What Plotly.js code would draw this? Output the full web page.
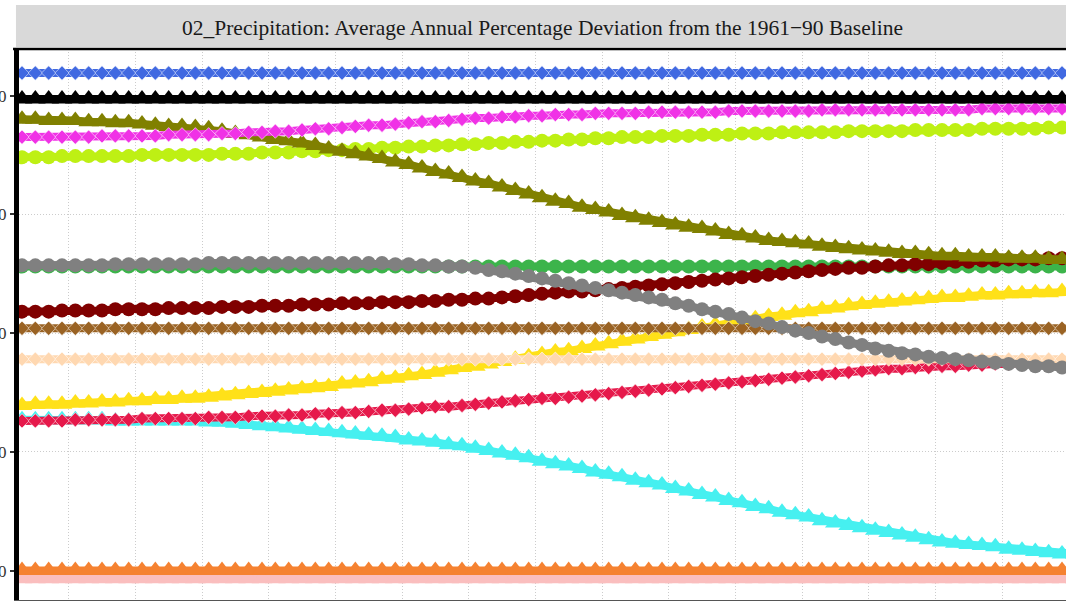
<!DOCTYPE html>
<html>
<head>
<meta charset="utf-8">
<script src="https://cdn.plot.ly/plotly-3.0.1.min.js"></script>
<style>html,body{margin:0;padding:0;background:#fff;overflow:hidden}</style>
</head>
<body>
<div id="myDiv" style="width:1066px;height:603px"></div>
<script>
// mid-year points, one per year
var years = [
	2021.5,2022.5,2023.5,2024.5,2025.5,2026.5,2027.5,2028.5,2029.5,2030.5,
	2031.5,2032.5,2033.5,2034.5,2035.5,2036.5,2037.5,2038.5,2039.5,2040.5,
	2041.5,2042.5,2043.5,2044.5,2045.5,2046.5,2047.5,2048.5,2049.5,2050.5,
	2051.5,2052.5,2053.5,2054.5,2055.5,2056.5,2057.5,2058.5,2059.5,2060.5,
	2061.5,2062.5,2063.5,2064.5,2065.5,2066.5,2067.5,2068.5,2069.5,2070.5,
	2071.5,2072.5,2073.5,2074.5,2075.5,2076.5,2077.5,2078.5,2079.5,2080.5,
	2081.5,2082.5,2083.5,2084.5,2085.5,2086.5,2087.5,2088.5,2089.5,2090.5,
	2091.5,2092.5,2093.5,2094.5,2095.5,2096.5,2097.5,2098.5,2099.5,2100.5]

var yTicks = [-20,-10,0,10,20]
var gridYears = [2025,2030,2035,2040,2045,2050,2055,2060,2065,2070,2075,2080,2085,2090,2095]

var pinkVals = [
	-20.7,-20.7,-20.7,-20.7,-20.7,-20.7,-20.7,-20.7,-20.7,-20.7,
	-20.7,-20.7,-20.7,-20.7,-20.7,-20.7,-20.7,-20.7,-20.7,-20.7,
	-20.7,-20.7,-20.7,-20.7,-20.7,-20.7,-20.7,-20.7,-20.7,-20.7,
	-20.7,-20.7,-20.7,-20.7,-20.7,-20.7,-20.7,-20.7,-20.7,-20.7,
	-20.7,-20.7,-20.7,-20.7,-20.7,-20.7,-20.7,-20.7,-20.7,-20.7,
	-20.7,-20.7,-20.7,-20.7,-20.7,-20.7,-20.7,-20.7,-20.7,-20.7,
	-20.7,-20.7,-20.7,-20.7,-20.7,-20.7,-20.7,-20.7,-20.7,-20.7,
	-20.7,-20.7,-20.7,-20.7,-20.7,-20.7,-20.7,-20.7,-20.7,-20.7]
var orangeVals = [
	-20.0,-20.0,-20.0,-20.0,-20.0,-20.0,-20.0,-20.0,-20.0,-20.0,
	-20.0,-20.0,-20.0,-20.0,-20.0,-20.0,-20.0,-20.0,-20.0,-20.0,
	-20.0,-20.0,-20.0,-20.0,-20.0,-20.0,-20.0,-20.0,-20.0,-20.0,
	-20.0,-20.0,-20.0,-20.0,-20.0,-20.0,-20.0,-20.0,-20.0,-20.0,
	-20.0,-20.0,-20.0,-20.0,-20.0,-20.0,-20.0,-20.0,-20.0,-20.0,
	-20.0,-20.0,-20.0,-20.0,-20.0,-20.0,-20.0,-20.0,-20.0,-20.0,
	-20.0,-20.0,-20.0,-20.0,-20.0,-20.0,-20.0,-20.0,-20.0,-20.0,
	-20.0,-20.0,-20.0,-20.0,-20.0,-20.0,-20.0,-20.0,-20.0,-20.0]
var cyanVals = [
	-7.3,-7.3,-7.3,-7.3,-7.3,-7.3,-7.3,-7.4,-7.4,-7.4,
	-7.4,-7.4,-7.4,-7.4,-7.5,-7.5,-7.6,-7.7,-7.8,-7.9,
	-8.0,-8.1,-8.2,-8.3,-8.4,-8.5,-8.6,-8.7,-8.8,-9.0,
	-9.1,-9.2,-9.4,-9.5,-9.7,-9.9,-10.1,-10.3,-10.5,-10.8,
	-11.0,-11.2,-11.4,-11.7,-11.9,-12.1,-12.4,-12.6,-12.8,-13.1,
	-13.3,-13.6,-13.8,-14.1,-14.3,-14.6,-14.8,-15.1,-15.3,-15.5,
	-15.8,-16.0,-16.2,-16.4,-16.6,-16.8,-17.0,-17.2,-17.4,-17.6,
	-17.7,-17.8,-17.9,-18.0,-18.2,-18.3,-18.4,-18.5,-18.6,-18.6]
var crimsonVals = [
	-7.4,-7.4,-7.4,-7.4,-7.3,-7.3,-7.3,-7.3,-7.3,-7.2,
	-7.2,-7.2,-7.2,-7.2,-7.1,-7.1,-7.1,-7.0,-7.0,-7.0,
	-6.9,-6.9,-6.8,-6.8,-6.7,-6.7,-6.6,-6.5,-6.5,-6.4,
	-6.3,-6.2,-6.2,-6.1,-6.0,-5.9,-5.8,-5.7,-5.6,-5.5,
	-5.5,-5.4,-5.3,-5.2,-5.1,-5.0,-4.9,-4.8,-4.7,-4.6,
	-4.5,-4.4,-4.3,-4.2,-4.1,-4.0,-3.9,-3.8,-3.7,-3.6,
	-3.5,-3.4,-3.3,-3.2,-3.1,-3.0,-3.0,-2.9,-2.9,-2.8,
	-2.8,-2.7,-2.7,-2.6,-2.6,-2.5,-2.5,-2.4,-2.4,-2.3]
var yellowVals = [
	-6.1,-6.0,-6.0,-6.0,-5.9,-5.9,-5.8,-5.8,-5.7,-5.7,
	-5.6,-5.6,-5.5,-5.5,-5.4,-5.3,-5.2,-5.1,-5.0,-4.9,
	-4.8,-4.7,-4.6,-4.5,-4.3,-4.2,-4.1,-3.9,-3.8,-3.6,
	-3.5,-3.3,-3.1,-2.9,-2.8,-2.6,-2.4,-2.2,-2.0,-1.8,
	-1.6,-1.5,-1.3,-1.1,-0.9,-0.7,-0.5,-0.3,-0.1,0.1,
	0.3,0.5,0.7,0.8,1.0,1.2,1.4,1.5,1.7,1.8,
	2.0,2.1,2.3,2.4,2.5,2.6,2.7,2.8,2.9,3.0,
	3.0,3.1,3.2,3.2,3.3,3.3,3.4,3.4,3.5,3.5]
var peachVals = [
	-2.2,-2.2,-2.2,-2.2,-2.2,-2.2,-2.2,-2.2,-2.2,-2.2,
	-2.2,-2.2,-2.2,-2.2,-2.2,-2.2,-2.2,-2.2,-2.2,-2.2,
	-2.2,-2.2,-2.2,-2.2,-2.2,-2.2,-2.2,-2.2,-2.2,-2.2,
	-2.2,-2.2,-2.2,-2.2,-2.2,-2.2,-2.2,-2.2,-2.2,-2.2,
	-2.2,-2.2,-2.2,-2.2,-2.2,-2.2,-2.2,-2.2,-2.2,-2.2,
	-2.2,-2.2,-2.2,-2.2,-2.2,-2.2,-2.2,-2.2,-2.2,-2.2,
	-2.2,-2.2,-2.2,-2.2,-2.2,-2.2,-2.2,-2.2,-2.2,-2.2,
	-2.2,-2.2,-2.2,-2.2,-2.2,-2.2,-2.2,-2.2,-2.2,-2.2]
var brownVals = [
	0.4,0.4,0.4,0.4,0.4,0.4,0.4,0.4,0.4,0.4,
	0.4,0.4,0.4,0.4,0.4,0.4,0.4,0.4,0.4,0.4,
	0.4,0.4,0.4,0.4,0.4,0.4,0.4,0.4,0.4,0.4,
	0.4,0.4,0.4,0.4,0.4,0.4,0.4,0.4,0.4,0.4,
	0.4,0.4,0.4,0.4,0.4,0.4,0.4,0.4,0.4,0.4,
	0.4,0.4,0.4,0.4,0.4,0.4,0.4,0.4,0.4,0.4,
	0.4,0.4,0.4,0.4,0.4,0.4,0.4,0.4,0.4,0.4,
	0.4,0.4,0.4,0.4,0.4,0.4,0.4,0.4,0.4,0.4]
var greenVals = [
	5.6,5.6,5.6,5.6,5.6,5.6,5.6,5.6,5.6,5.6,
	5.6,5.6,5.6,5.6,5.6,5.6,5.6,5.6,5.6,5.6,
	5.6,5.6,5.6,5.6,5.6,5.6,5.6,5.6,5.6,5.6,
	5.6,5.6,5.6,5.6,5.6,5.6,5.6,5.6,5.6,5.6,
	5.6,5.6,5.6,5.6,5.6,5.6,5.6,5.6,5.6,5.6,
	5.6,5.6,5.6,5.6,5.6,5.6,5.6,5.6,5.6,5.6,
	5.6,5.6,5.6,5.6,5.6,5.6,5.6,5.6,5.6,5.6,
	5.6,5.6,5.6,5.6,5.6,5.6,5.6,5.6,5.6,5.6]
var maroonVals = [
	1.8,1.8,1.8,1.9,1.9,1.9,1.9,2.0,2.0,2.0,
	2.0,2.1,2.1,2.1,2.1,2.2,2.2,2.2,2.3,2.3,
	2.3,2.4,2.4,2.4,2.5,2.5,2.5,2.6,2.6,2.6,
	2.7,2.7,2.8,2.8,2.9,2.9,3.0,3.1,3.2,3.3,
	3.4,3.5,3.5,3.6,3.7,3.8,3.9,4.0,4.1,4.2,
	4.3,4.4,4.5,4.6,4.7,4.8,4.9,5.0,5.1,5.2,
	5.3,5.4,5.5,5.5,5.6,5.7,5.7,5.8,5.8,5.9,
	6.0,6.0,6.1,6.1,6.2,6.2,6.2,6.3,6.3,6.3]
var greyVals = [
	5.7,5.7,5.7,5.7,5.7,5.7,5.7,5.8,5.8,5.8,
	5.8,5.8,5.8,5.8,5.9,5.9,5.9,5.9,5.9,5.9,
	5.9,5.9,5.9,5.9,5.9,5.9,5.9,5.9,5.8,5.8,
	5.7,5.7,5.6,5.6,5.5,5.3,5.2,5.0,4.8,4.6,
	4.4,4.2,4.0,3.8,3.6,3.4,3.2,3.0,2.8,2.5,
	2.3,2.0,1.8,1.6,1.3,1.0,0.8,0.5,0.2,0.0,
	-0.3,-0.5,-0.8,-1.0,-1.3,-1.5,-1.7,-1.8,-2.0,-2.1,
	-2.2,-2.3,-2.4,-2.5,-2.6,-2.7,-2.8,-2.8,-2.9,-2.9]
var limeVals = [
	14.8,14.8,14.8,14.9,14.9,14.9,14.9,14.9,14.9,15.0,
	15.0,15.0,15.0,15.0,15.0,15.1,15.1,15.1,15.2,15.2,
	15.2,15.3,15.3,15.4,15.4,15.5,15.5,15.6,15.6,15.7,
	15.7,15.8,15.8,15.9,15.9,16.0,16.0,16.1,16.1,16.2,
	16.2,16.3,16.3,16.4,16.4,16.5,16.5,16.5,16.6,16.6,
	16.6,16.7,16.7,16.7,16.8,16.8,16.8,16.9,16.9,16.9,
	16.9,16.9,17.0,17.0,17.0,17.0,17.0,17.1,17.1,17.1,
	17.1,17.1,17.2,17.2,17.2,17.2,17.2,17.3,17.3,17.3]
var oliveVals = [
	18.0,18.0,17.9,17.9,17.9,17.8,17.8,17.7,17.7,17.6,
	17.5,17.4,17.4,17.3,17.2,17.0,16.8,16.7,16.5,16.3,
	16.2,16.0,15.8,15.5,15.3,15.1,14.9,14.7,14.4,14.2,
	13.9,13.6,13.4,13.1,12.8,12.6,12.3,12.0,11.7,11.4,
	11.1,10.9,10.6,10.4,10.2,9.9,9.7,9.5,9.3,9.1,
	8.9,8.8,8.6,8.3,8.2,8.0,7.8,7.7,7.6,7.5,
	7.3,7.2,7.1,7.0,6.9,6.8,6.7,6.7,6.6,6.5,
	6.5,6.4,6.4,6.4,6.3,6.3,6.3,6.2,6.2,6.2]
var magentaVals = [
	16.5,16.5,16.5,16.5,16.5,16.5,16.6,16.6,16.6,16.6,
	16.6,16.7,16.7,16.7,16.7,16.8,16.8,16.9,16.9,17.0,
	17.0,17.1,17.2,17.2,17.3,17.4,17.5,17.5,17.6,17.7,
	17.8,17.8,17.9,18.0,18.1,18.1,18.2,18.2,18.3,18.3,
	18.4,18.4,18.4,18.5,18.5,18.5,18.5,18.6,18.6,18.6,
	18.6,18.6,18.6,18.7,18.7,18.7,18.7,18.7,18.7,18.7,
	18.8,18.8,18.8,18.8,18.8,18.8,18.8,18.8,18.8,18.8,
	18.8,18.8,18.9,18.9,18.9,18.9,18.9,18.9,18.9,18.9]
var blackVals = [
	19.7,19.7,19.7,19.7,19.7,19.7,19.7,19.7,19.7,19.7,
	19.7,19.7,19.7,19.7,19.7,19.7,19.7,19.7,19.7,19.7,
	19.7,19.7,19.7,19.7,19.7,19.7,19.7,19.7,19.7,19.7,
	19.7,19.7,19.7,19.7,19.7,19.7,19.7,19.7,19.7,19.7,
	19.7,19.7,19.7,19.7,19.7,19.7,19.7,19.7,19.7,19.7,
	19.7,19.7,19.7,19.7,19.7,19.7,19.7,19.7,19.7,19.7,
	19.7,19.7,19.7,19.7,19.7,19.7,19.7,19.7,19.7,19.7,
	19.7,19.7,19.7,19.7,19.7,19.7,19.7,19.7,19.7,19.7]
var blueVals = [
	21.9,21.9,21.9,21.9,21.9,21.9,21.9,21.9,21.9,21.9,
	21.9,21.9,21.9,21.9,21.9,21.9,21.9,21.9,21.9,21.9,
	21.9,21.9,21.9,21.9,21.9,21.9,21.9,21.9,21.9,21.9,
	21.9,21.9,21.9,21.9,21.9,21.9,21.9,21.9,21.9,21.9,
	21.9,21.9,21.9,21.9,21.9,21.9,21.9,21.9,21.9,21.9,
	21.9,21.9,21.9,21.9,21.9,21.9,21.9,21.9,21.9,21.9,
	21.9,21.9,21.9,21.9,21.9,21.9,21.9,21.9,21.9,21.9,
	21.9,21.9,21.9,21.9,21.9,21.9,21.9,21.9,21.9,21.9]

function makeTrace(vals, colour, shape){
	var marker = {symbol: shape, color: colour, size: 14}
	if (shape == 'triangle-up'){
		marker.size = 18
	}
	if (shape == 'diamond'){
		// filled diamond with a pale rim, mostly hidden by the thick line
		marker.size = 11
		marker.line = {color: 'rgba(255,255,255,0.55)', width: 1}
	}
	return {
		x: years,
		y: vals,
		type: 'scatter',
		mode: 'lines+markers',
		line: {color: colour, width: 8},
		marker: marker,
		hoverinfo: 'skip',
		showlegend: false
	}
}

// drawing order: bottom first
var data = [
	makeTrace(pinkVals, '#fabebe', 'triangle-up'),
	makeTrace(orangeVals, '#f58231', 'triangle-up'),
	makeTrace(cyanVals, '#46f0f0', 'triangle-up'),
	makeTrace(crimsonVals, '#e6194b', 'diamond'),
	makeTrace(yellowVals, '#ffe119', 'triangle-up'),
	makeTrace(peachVals, '#ffd8b1', 'diamond'),
	makeTrace(brownVals, '#9a6324', 'diamond'),
	makeTrace(greenVals, '#3cb44b', 'circle'),
	makeTrace(maroonVals, '#800000', 'circle'),
	makeTrace(greyVals, '#808080', 'circle'),
	makeTrace(limeVals, '#bef014', 'circle'),
	makeTrace(oliveVals, '#808000', 'triangle-up'),
	makeTrace(magentaVals, '#f032e6', 'diamond'),
	makeTrace(blackVals, '#000000', 'triangle-up'),
	makeTrace(blueVals, '#4169e1', 'diamond')
]

var layout = {
	width: 1066,
	height: 603,
	margin: {l: 19, r: 0, t: 49, b: 3},
	paper_bgcolor: 'white',
	plot_bgcolor: 'white',
	font: {family: 'Liberation Serif, serif', color: '#333'},
	title: {
		text: '02_Precipitation: Average Annual Percentage Deviation from the 1961\u221290 Baseline',
		font: {family: 'Liberation Serif, serif', size: 21.5, color: '#1a1a1a'},
		x: 0.5, xref: 'paper', xanchor: 'center',
		y: 0.954, yref: 'container', yanchor: 'middle'
	},
	xaxis: {
		range: [2021.275, 2099.8],
		tickvals: gridYears,
		showticklabels: false,
		ticks: '',
		showgrid: true,
		gridcolor: '#cccccc',
		griddash: '1px,2px',
		gridwidth: 1,
		zeroline: false,
		showline: true,
		linecolor: '#555',
		linewidth: 1
	},
	yaxis: {
		range: [-22.48, 23.92],
		tickvals: yTicks,
		ticks: 'outside',
		ticklen: 4,
		tickwidth: 2,
		tickcolor: '#333',
		tickfont: {family: 'Liberation Serif, serif', size: 17, color: '#333'},
		showgrid: true,
		gridcolor: '#cccccc',
		griddash: '1px,2px',
		gridwidth: 1,
		zeroline: false,
		showline: true,
		linecolor: 'black',
		linewidth: 5,
		automargin: false
	},
	shapes: [
		{type: 'rect', xref: 'paper', yref: 'paper', x0: -0.0029, x1: 1, y0: 1.0036, y1: 1.0799,
			fillcolor: '#d9d9d9', line: {width: 0}, layer: 'below'},
		{type: 'line', xref: 'paper', yref: 'paper', x0: -0.0057, x1: 1, y0: 1, y1: 1,
			line: {color: 'black', width: 2.5}}
	]
}

var config = {staticPlot: true, displayModeBar: false}

Plotly.newPlot('myDiv', data, layout, config)
</script>
</body>
</html>
